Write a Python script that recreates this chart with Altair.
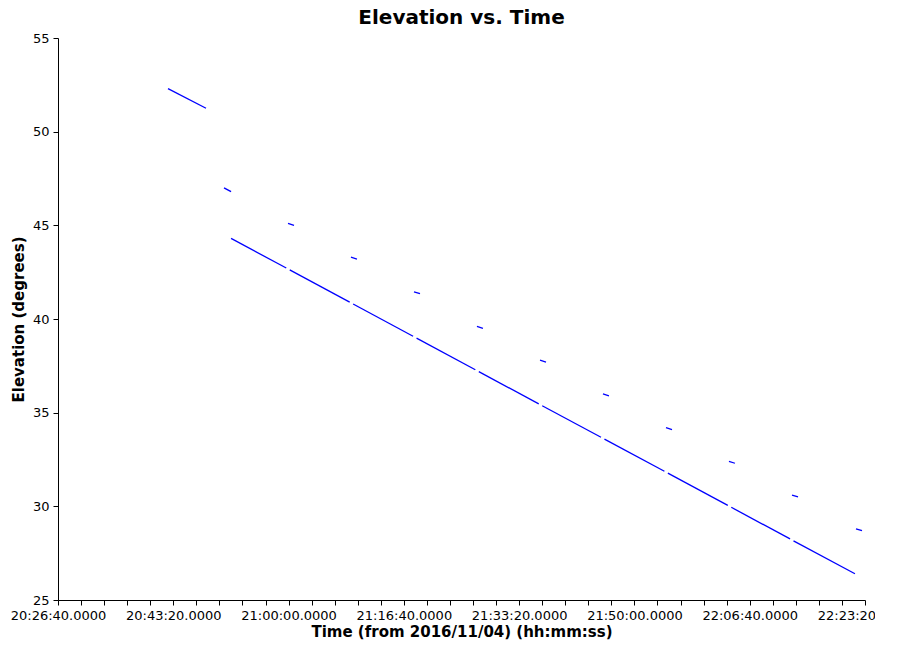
import altair as alt
import pandas as pd

# seconds after 20:26:40 UTC on 2016/11/04
base_ms = 1478291200000  # 2016-11-04 20:26:40 UTC

seg_t0 = [954, 1440, 1995, 2541, 3088, 3634, 4181, 4727, 5274, 5820, 6367, 6922,
          1501, 2010, 2560, 3110, 3650, 4200, 4740, 5290, 5840, 6380]
seg_t1 = [1284, 1501, 2047, 2593, 3140, 3686, 4233, 4779, 5326, 5872, 6419, 6974,
          1980, 2530, 3080, 3620, 4170, 4710, 5260, 5810, 6350, 6913]
seg_e0 = [52.3, 47.0, 45.1, 43.3, 41.45, 39.6, 37.8, 36.0, 34.2, 32.4, 30.6, 28.8,
          44.3, 42.62, 40.80, 38.98, 37.19, 35.37, 33.59, 31.77, 29.95, 28.16]
seg_e1 = [51.25, 46.8, 45.0, 43.2, 41.35, 39.5, 37.7, 35.9, 34.1, 32.3, 30.5, 28.7,
          42.72, 40.90, 39.08, 37.29, 35.47, 33.69, 31.87, 30.05, 28.26, 26.40]

rows = []
for i in range(len(seg_t0)):
    rows.append({"seg": i, "t": base_ms + seg_t0[i] * 1000, "el": seg_e0[i]})
    rows.append({"seg": i, "t": base_ms + seg_t1[i] * 1000, "el": seg_e1[i]})
df = pd.DataFrame(rows)

tick_vals = [base_ms + k * 200000 for k in range(36)]

chart = alt.Chart(df).mark_line(color="#0000ff", strokeWidth=1.3).encode(
    x=alt.X("t:Q",
            scale=alt.Scale(domain=[base_ms, base_ms + 7000000], nice=False, zero=False),
            axis=alt.Axis(title="Time (from 2016/11/04) (hh:mm:ss)", values=tick_vals,
                          labelExpr="(datum.value - %d) %% 1000000 == 0 ? utcFormat(datum.value, '%%H:%%M:%%S') + '.0000' : ''" % base_ms,
                          grid=False, labelOverlap=False, labelFlush=False, titlePadding=2)),
    y=alt.Y("el:Q", scale=alt.Scale(domain=[25, 55], nice=False),
            axis=alt.Axis(title="Elevation (degrees)", values=[25, 30, 35, 40, 45, 50, 55],
                          grid=False, titlePadding=6)),
    detail="seg:N",
).properties(
    width=807, height=562,
    title=alt.TitleParams("Elevation vs. Time", fontSize=20, font="DejaVu Sans", fontWeight="bold",
                          color="black", offset=4),
    autosize=alt.AutoSizeParams(type="none"),
    padding={"left": 50, "top": 30, "right": 10, "bottom": 45},
).configure_axis(
    domainColor="black", tickColor="black", labelColor="black", titleColor="black",
    labelFont="DejaVu Sans", titleFont="DejaVu Sans", labelFontSize=13, titleFontSize=15,
    titleFontWeight="bold", labelPadding=4,
).configure_view(stroke=None)

chart.save("out.html", embed_options={"renderer": "svg", "actions": False})
